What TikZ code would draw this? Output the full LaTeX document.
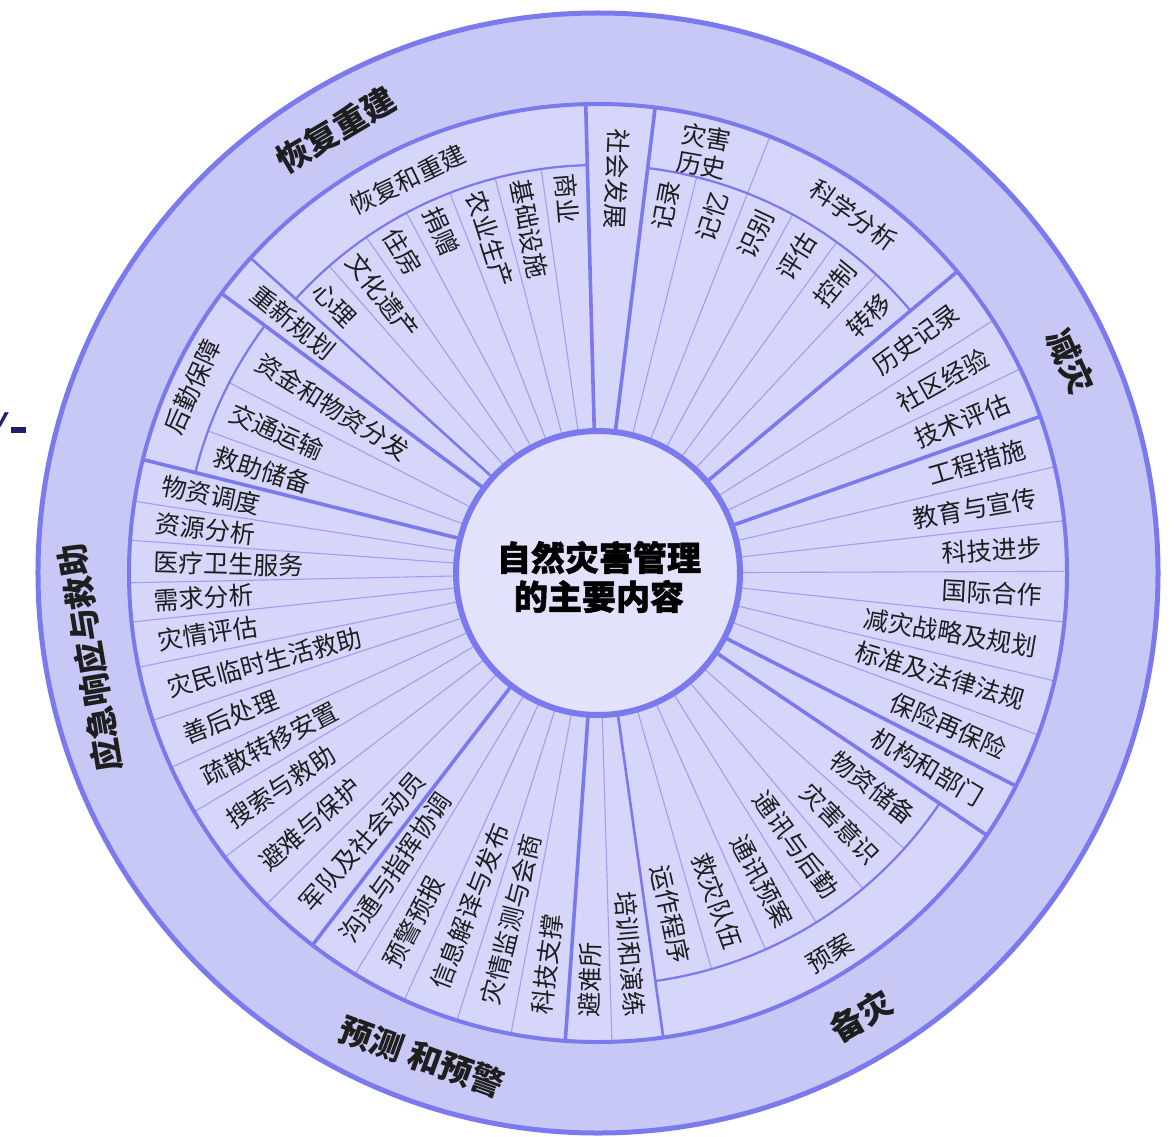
\documentclass[tikz,border=0pt]{standalone}
\usepackage{fontspec}
\newfontfamily\cjk{Noto Sans CJK SC}
\newfontfamily\cjkheavy{Noto Sans CJK SC}[FakeBold=1.6]
\newfontfamily\latinsans{Liberation Sans}
\definecolor{ringblue}{RGB}{122,122,238}
\definecolor{thinblue}{RGB}{158,158,242}
\definecolor{bandfill}{RGB}{200,200,246}
\definecolor{itemfill}{RGB}{214,214,250}
\definecolor{centerfill}{RGB}{226,226,252}
\definecolor{navy}{RGB}{30,30,110}
\definecolor{inktext}{RGB}{30,30,30}
\begin{document}
\begin{tikzpicture}[x=1pt,y=1pt,
  item/.style={font=\cjk\fontsize{25}{25}\selectfont, inner sep=0pt, text=inktext},
  sublabel/.style={font=\cjk\fontsize{25}{28}\selectfont, inner sep=0pt, text=inktext, align=center},
  cat/.style={font=\cjk\bfseries\fontsize{33}{33}\selectfont, inner sep=0pt, text=inktext},
  thickline/.style={draw=ringblue, line width=3.6pt},
  midline/.style={draw=ringblue, line width=2.6pt},
  thinline/.style={draw=thinblue, line width=1.1pt},
  arcline/.style={draw=ringblue, line width=2.2pt},
]
\useasboundingbox (-598,-563) rectangle (576,573);
\fill[white] (-598,-563) rectangle (576,573);
% disks
\fill[bandfill] (0,0) circle[radius=560];
\fill[itemfill] (0,0) circle[radius=469];
% thin full spokes
\foreach \a in {68.5,32.6,25.8,13.1,6.4,0.2,-6,-13.3,-20.2,-88.3,259.3,252.5,245.6,238.8,225,217.3,210.6,204.5,198.3,191.6,186,181.2,176,171.2}
  \draw[thinline] (\a:142) -- (\a:469);
% thin spokes ending at sub arcs
\foreach \a in {131.2,124.6,118,111.3,104.6,98,76,61.5,54.2,47}
  \draw[thinline] (\a:142) -- (\a:408);
\foreach \a in {-42,-50,-58,-66,-74}
  \draw[thinline] (\a:142) -- (\a:412);
\foreach \a in {152.7,160}
  \draw[thinline] (\a:142) -- (\a:415);
% sub arcs
\draw[arcline] (137.8:408) arc[start angle=137.8, end angle=91.5, radius=408];
\draw[arcline] (83:408) arc[start angle=83, end angle=40, radius=408];
\draw[arcline] (-34:412) arc[start angle=-34, end angle=-82, radius=412];
\draw[arcline] (143.4:415) arc[start angle=143.4, end angle=166, radius=415];
% medium and thick spokes
\foreach \a in {137.8,-82}
  \draw[midline] (\a:142) -- (\a:469);
\foreach \a in {91.5,83,40,19.5,-27,-34,-94,232.5,166,143.4}
  \draw[thickline] (\a:142) -- (\a:469);
% rings
\draw[ringblue, line width=5pt] (0,0) circle[radius=560];
\draw[ringblue, line width=4pt] (0,0) circle[radius=469];
\filldraw[fill=centerfill, draw=ringblue, line width=6pt] (0,0) circle[radius=142];

% centre title
\node[font=\cjkheavy\bfseries\fontsize{34}{39}\selectfont, align=center, inner sep=0pt] (title) at (1,-4) {自然灾害管理\\的主要内容};

% category labels (outer band)
\node[cat, rotate=30.6] (c1) at (120.6:515) {恢复重建};
\node[cat, rotate=-65.9] (c2) at (24.1:518) {减灾};
\node[cat, rotate=30.7] (c3) at (-59.3:515) {备灾};
\node[cat, rotate=-20] (c4) at (250:515) {预测\hspace{8pt}和预警};
\node[cat, rotate=99.5] (c5) at (189.5:515) {应急响应与救助};

% sub labels
\node[sublabel, rotate=25.8] (s1) at (115.8:437) {恢复和重建};
\node[sublabel, rotate=-10] (s2) at (75.9:435) {灾害\\历史};
\node[sublabel, rotate=-35.5] (s3) at (54.5:440) {科学分析};
\node[sublabel, rotate=65.3] (s4) at (155.3:446) {后勤保障};
\node[sublabel, rotate=31.4] (s5) at (-58.6:445) {预案};

% items reading inward, inside sub arcs
\foreach \a/\t [count=\i] in {134.5/心理,127.9/文化遗产,121.3/住房,114.65/捐赠,107.95/农业生产,101.3/基础设施,94.75/商业,148/资金和物资分发,156.3/交通运输,163/救助储备}
  \node[item, anchor=west, rotate=\a-180] (ia\i) at (\a:401) {\t};
% items reading inward, full length
\foreach \a/\t [count=\i] in {87.25/社会发展,140.6/重新规划,168.6/物资调度,173.6/资源分析,178.6/医疗卫生服务,183.6/需求分析,188.8/灾情评估,195/灾民临时生活救助,201.4/善后处理,207.5/疏散转移安置,214/搜索与救助,221.1/避难与保护,228.7/军队及社会动员,235.5/沟通与指挥协调,242.2/预警预报,249/信息解译与发布,255.9/灾情监测与会商,262.6/科技支撑,268.85/避难所}
  \node[item, anchor=west, rotate=\a-180] (ib\i) at (\a:445) {\t};
% items reading outward, inside sub arcs
\foreach \a/\t [count=\i] in {79.5/记录,72.25/记忆,65/识别,57.85/评估,50.6/控制,43.5/转移,-38/物资储备,-46/灾害意识,-54/通讯与后勤,-62/通讯预案,-70/救灾队伍,-78/运作程序}
  \node[item, anchor=east, rotate=\a] (oa\i) at (\a:399) {\t};
% items reading outward, full length
\foreach \a/\t [count=\i] in {36.3/历史记录,29.2/社区经验,22.65/技术评估,16.3/工程措施,9.75/教育与宣传,3.3/科技进步,-2.9/国际合作,-9.6/减灾战略及规划,-16.7/标准及法律法规,-23.6/保险再保险,-30.5/机构和部门,-85.15/培训和演练}
  \node[item, anchor=east, rotate=\a] (ob\i) at (\a:445) {\t};

% cropped fragment at the left edge
\node[font=\latinsans\bfseries\itshape\fontsize{28}{28}\selectfont, text=navy, inner sep=0pt, anchor=base east] (frag) at (-590,146) {v};
\fill[navy] (-587,146) rectangle (-572,140);
\end{tikzpicture}
\end{document}
